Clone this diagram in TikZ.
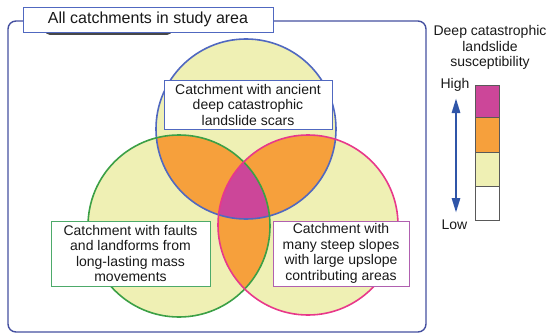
\documentclass[tikz,border=0pt]{standalone}
\usepackage{fontspec}
\setmainfont{Liberation Sans}
\usetikzlibrary{arrows.meta}
\definecolor{cyell}{HTML}{EFF0B4}
\definecolor{corange}{HTML}{F6A03C}
\definecolor{cmag}{HTML}{CC4699}
\definecolor{cblue}{HTML}{5068C0}
\definecolor{cgreen}{HTML}{3CA046}
\definecolor{cpink}{HTML}{E8388A}
\definecolor{cframe}{HTML}{4550A0}
\definecolor{carrow}{HTML}{2F55A8}
\definecolor{cboxg}{HTML}{4DAA6A}
\definecolor{cboxp}{HTML}{B060B0}
\tikzset{
  txt/.style={font=\fontsize{14}{15.5}\selectfont, align=center, text=black!90},
  labbox/.style={txt, draw, fill=white, line width=0.9pt, inner sep=0pt},
  ring/.style={line width=1.6pt},
  legcell/.style={draw=black!65, line width=0.8pt, minimum width=24pt, inner sep=0pt},
}
\begin{document}
\begin{tikzpicture}[x=1pt,y=-1pt]
\useasboundingbox (0,0) rectangle (548,334);
% outer frame
\draw[cframe, line width=1.4pt, rounded corners=8pt] (8,21) rectangle (426,332);
% shadow under title
\fill[black!72, rounded corners=5pt] (45,14) rectangle (172,35);
\node[labbox, draw=cblue, minimum width=250pt, minimum height=25pt, font=\fontsize{16}{18}\selectfont] (title) at (148,19.5) {All catchments in study area};
% circles
\coordinate (cb) at (246,129);
\coordinate (cg) at (179,226);
\coordinate (cp) at (308,225);
\fill[cyell] (cb) circle (90);
\fill[cyell] (cg) circle (91);
\fill[cyell] (cp) circle (90);
\begin{scope}
  \clip (cb) circle (90);
  \fill[corange] (cg) circle (91);
  \fill[corange] (cp) circle (90);
\end{scope}
\begin{scope}
  \clip (cg) circle (91);
  \fill[corange] (cp) circle (90);
  \clip (cp) circle (90);
  \fill[cmag] (cb) circle (90);
\end{scope}
\draw[ring, cblue] (cb) circle (90);
\draw[ring, cgreen] (cg) circle (91);
\draw[ring, cpink] (cp) circle (90);
% labels
\node[labbox, draw=cblue, minimum width=168pt, minimum height=49pt] (top) at (248,104.5)
  {Catchment with ancient\\deep catastrophic\\landslide scars};
\node[labbox, draw=cboxg, minimum width=159pt, minimum height=65pt] (left) at (130.5,253.5)
  {Catchment with faults\\and landforms from\\long-lasting mass\\movements};
\node[labbox, draw=cboxp, minimum width=136pt, minimum height=65pt] (right) at (341,253.5)
  {Catchment with\\many steep slopes\\with large upslope\\contributing areas};
% legend
\node[txt] (legt) at (490,47.5) {Deep catastrophic\\landslide\\susceptibility};
\node[txt, anchor=center] (high) at (455,85) {High};
\node[txt, anchor=center] (low) at (454.5,225) {Low};
\node[legcell, fill=cmag, minimum height=32pt, anchor=north west] (l1) at (475,85) {};
\node[legcell, fill=corange, minimum height=35pt, anchor=north west] (l2) at (475,117) {};
\node[legcell, fill=cyell, minimum height=34pt, anchor=north west] (l3) at (475,152) {};
\node[legcell, fill=white, minimum height=34pt, anchor=north west] (l4) at (475,186) {};
\coordinate (ahi) at (456,98);
\coordinate (alo) at (456,213);
\draw[carrow, line width=2.8pt, {Triangle[length=15pt,width=8pt]}-{Triangle[length=15pt,width=8pt]}] (ahi) -- (alo);
\end{tikzpicture}
\end{document}
